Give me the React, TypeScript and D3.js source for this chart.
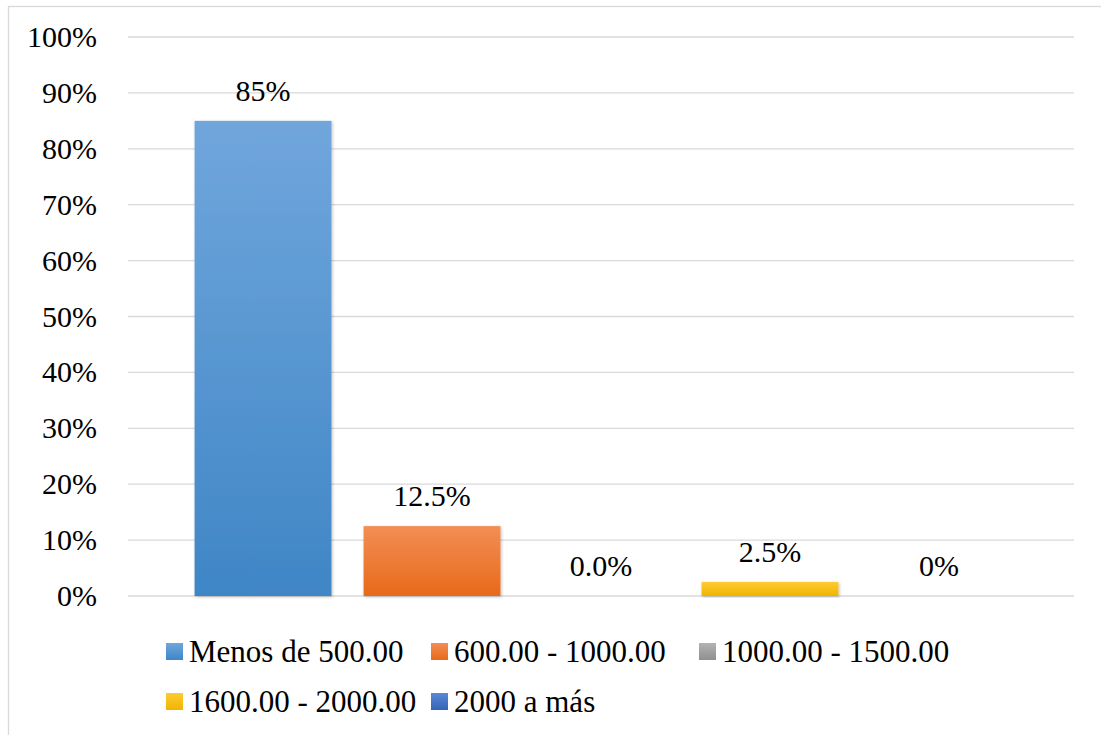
import React, { useEffect } from "react";
import * as d3 from "d3";

const series = ["Menos de 500.00", "600.00 - 1000.00", "1000.00 - 1500.00", "1600.00 - 2000.00", "2000 a más"];
const values = [85, 12.5, 0, 2.5, 0];
const valueLabels = ["85%", "12.5%", "0.0%", "2.5%", "0%"];
const yTicks = [0, 10, 20, 30, 40, 50, 60, 70, 80, 90, 100];
const colorsTop = ["#70a6dc", "#f28e55", "#b3b3b3", "#ffcb33", "#5b87d6"];
const colorsBottom = ["#3f86c6", "#e8691a", "#8f8f8f", "#f0b400", "#3564b6"];

const W = 1101;
const H = 735;
const plot = { left: 128, right: 1074, top: 37, bottom: 596 };
const FONT = '"Liberation Serif", Tinos, "DejaVu Serif", serif';

export default function App() {
  useEffect(() => {
    document.body.style.margin = "0";
  }, []);

  const y = d3.scaleLinear().domain([0, 100]).range([plot.bottom, plot.top]);
  const x = d3
    .scaleBand<string>()
    .domain(series)
    .range([plot.left, plot.right])
    .paddingInner(0.19)
    .paddingOuter(0.394);

  const legendCols = [166, 431, 699];
  const legendRows = [652, 702];
  const textStyle = { fontFamily: FONT };

  return (
    <svg width={W} height={H} style={{ position: "absolute", left: 0, top: 0, background: "#fff" }}>
      <defs>
        {series.map((s, i) => (
          <linearGradient key={s} id={`g${i}`} x1="0" y1="0" x2="0" y2="1">
            <stop offset="0%" stopColor={colorsTop[i]} />
            <stop offset="100%" stopColor={colorsBottom[i]} />
          </linearGradient>
        ))}
        <filter id="shadow" x="-10%" y="-10%" width="120%" height="120%">
          <feDropShadow dx="1" dy="1" stdDeviation="1.5" floodColor="#000" floodOpacity="0.25" />
        </filter>
      </defs>
      <rect x={8.5} y={6.5} width={W + 10} height={H + 10} fill="#fff" stroke="#d9d9d9" strokeWidth={1.3} />
      {yTicks.map((t) => (
        <g key={t}>
          <line x1={plot.left} x2={plot.right} y1={y(t)} y2={y(t)} stroke="#d9d9d9" strokeWidth={1.3} />
          <text x={97} y={y(t) + 10} textAnchor="end" fontSize={30} fill="#000" style={textStyle}>
            {`${t}%`}
          </text>
        </g>
      ))}
      {series.map((s, i) => {
        const bx = x(s)!;
        const bw = x.bandwidth();
        const top = y(values[i]);
        return (
          <g key={s}>
            {values[i] > 0 && (
              <rect x={bx} y={top} width={bw} height={y(0) - top} fill={`url(#g${i})`} filter="url(#shadow)" />
            )}
            <text x={bx + bw / 2} y={top - 20} textAnchor="middle" fontSize={30} fill="#000" style={textStyle}>
              {valueLabels[i]}
            </text>
          </g>
        );
      })}
      {series.map((s, i) => {
        const col = i < 3 ? i : i - 3;
        const row = i < 3 ? 0 : 1;
        const lx = legendCols[col];
        const ly = legendRows[row];
        return (
          <g key={`l${s}`}>
            <rect x={lx} y={ly - 9} width={17} height={17} fill={`url(#g${i})`} />
            <text x={lx + 23} y={ly + 10} fontSize={31} fill="#000" style={textStyle}>
              {s}
            </text>
          </g>
        );
      })}
    </svg>
  );
}
